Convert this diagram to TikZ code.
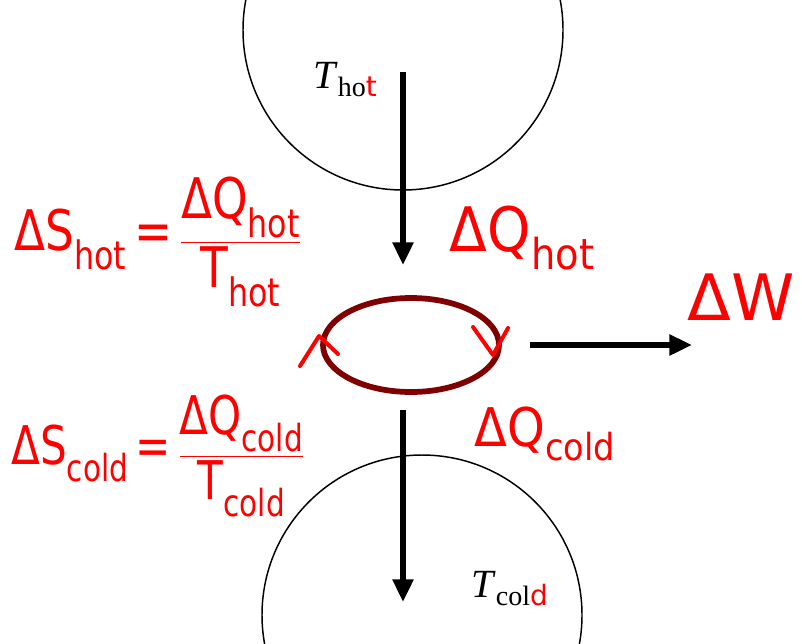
\documentclass[tikz,border=0pt]{standalone}
\usepackage{amsmath}
\usepackage{graphicx}
\usepackage{fontspec}
\setmainfont{Liberation Serif}
\newfontfamily\hand{DejaVu Sans}
\usetikzlibrary{arrows.meta}
\definecolor{loopred}{HTML}{7F0000}
\definecolor{inkred}{HTML}{FF0000}
\tikzset{
  reservoir/.style={draw=black, line width=1.1pt},
  flow/.style={draw=black, line width=5pt, -{Triangle[length=17pt,width=15pt]}},
  ink/.style={text=inkred, inner sep=0pt},
  stroke/.style={draw=inkred, line width=3pt, line cap=round, line join=round},
  label/.style={inner sep=0pt, font=\fontsize{30}{33}\selectfont}
}
\begin{document}
\begin{tikzpicture}[x=0.75pt,y=-0.75pt]
\useasboundingbox (0,0) rectangle (802,643);
\begin{scope}
\clip (0,0) rectangle (802,643);
\draw[reservoir] (403,30) circle [radius=160];
\draw[reservoir] (422,615) circle [radius=160];
\end{scope}
% labels
\node[label, anchor=base west] (thot) at (313,88) {\textit{T}\raisebox{-6pt}{\fontsize{21}{23}\selectfont ho{\color{inkred}\hand t}}};
\node[label, anchor=base west] (tcold) at (471,597) {\textit{T}\raisebox{-6pt}{\fontsize{21}{23}\selectfont col{\color{inkred}\hand d}}};
% coordinates for arrows
\coordinate (a1) at (403,72);
\coordinate (a2) at (403,265);
\coordinate (b1) at (403,410);
\coordinate (b2) at (403,602);
\coordinate (c1) at (530,345);
\coordinate (c2) at (692,345);
\draw[flow] (a1) -- (a2);
\draw[flow] (b1) -- (b2);
\draw[flow] (c1) -- (c2);
% engine cycle
\draw[draw=loopred, line width=4.3pt] (411,345) ellipse [x radius=88, y radius=47];
\coordinate (m1) at (300,366);
\coordinate (m2) at (319,336);
\coordinate (m3) at (338,354);
\coordinate (n1) at (473,327);
\coordinate (n2) at (493,355);
\coordinate (n3) at (508,328);
\draw[stroke] (m1) -- (m2) -- (m3);
\draw[stroke] (n1) -- (n2) -- (n3);
% handwritten annotations
\node[ink, font=\hand\fontsize{46}{54}\selectfont] (qhot) at (522,238) {\scalebox{0.9}[1]{ΔQ\raisebox{-13pt}{\fontsize{32}{34}\selectfont hot}}};
\node[ink, font=\hand\fontsize{40}{48}\selectfont] (qcold) at (545,434) {\scalebox{0.9}[1]{ΔQ\raisebox{-11pt}{\fontsize{28}{30}\selectfont cold}}};
\node[ink, font=\hand\fontsize{48}{56}\selectfont] (dw) at (741,297) {ΔW};
\node[ink, font=\hand\fontsize{42}{50}\selectfont] (shot) at (158,242) {\scalebox{0.81}[1]{$\text{ΔS}_{\text{hot}}\mathrel{\text{=}}\dfrac{\text{ΔQ}_{\text{hot}}}{\text{T}_{\text{hot}}}$}};
\node[ink, font=\hand\fontsize{40}{48}\selectfont] (scold) at (158,456) {\scalebox{0.79}[1]{$\text{ΔS}_{\text{cold}}\mathrel{\text{=}}\dfrac{\text{ΔQ}_{\text{cold}}}{\text{T}_{\text{cold}}}$}};
\end{tikzpicture}
\end{document}
